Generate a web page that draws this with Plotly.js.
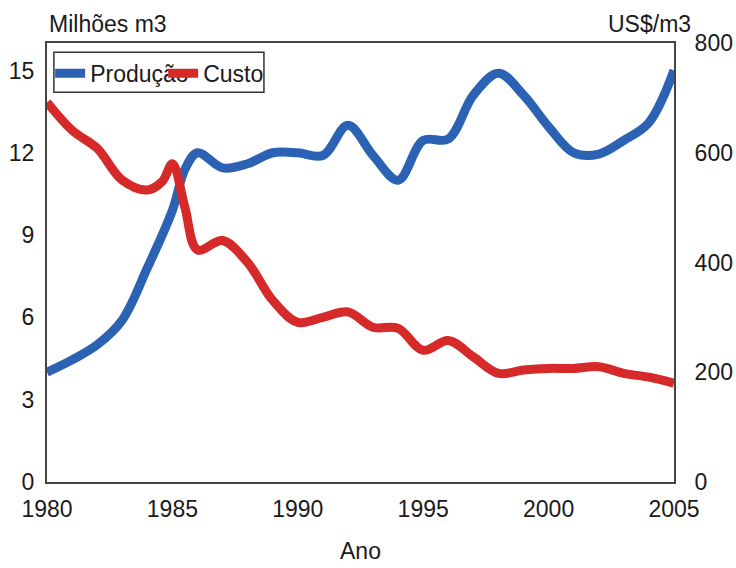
<!DOCTYPE html>
<html>
<head>
<meta charset="utf-8">
<script src="https://cdn.plot.ly/plotly-3.0.1.min.js"></script>
<style>html,body{margin:0;padding:0;background:#fff;}#chart{width:736px;height:568px;}</style>
</head>
<body>
<div id="chart"></div>
<script>
// Produção (milhões m3), left axis
const prodYears = [1980, 1981, 1982, 1983, 1984, 1985, 1985.5, 1986, 1987, 1988, 1989, 1990, 1991, 1992, 1993, 1994, 1995, 1996, 1997, 1998, 1999, 2000, 2001, 2002, 2003, 2004, 2005];
const prodValues = [4.0, 4.45, 5.0, 5.9, 7.8, 9.9, 11.4, 12.0, 11.45, 11.6, 12.0, 12.0, 11.9, 13.0, 11.9, 11.0, 12.45, 12.5, 14.1, 14.9, 14.1, 12.95, 12.0, 11.95, 12.45, 13.1, 15.0];
// Custo (US$/m3), right axis
const costYears = [1980, 1981, 1982, 1983, 1984, 1984.6, 1985, 1985.5, 1986, 1987, 1988, 1989, 1990, 1991, 1992, 1993, 1994, 1995, 1996, 1997, 1998, 1999, 2000, 2001, 2002, 2003, 2004, 2005];
const costValues = [692, 641, 608, 550, 532, 548, 580, 500, 423, 440, 400, 331, 291, 300, 310, 282, 280, 240, 258, 228, 198, 204, 207, 207, 210, 198, 191, 180];

const xTicks = [1980, 1985, 1990, 1995, 2000, 2005];
const yTicks = [0, 3, 6, 9, 12, 15];
const y2Ticks = [0, 200, 400, 600, 800];

const FONT = '"Liberation Sans", Arial, sans-serif';
const FS = 23;
const traces = [
  {x: prodYears, y: prodValues, name: 'Produção', type: 'scatter', mode: 'lines',
   line: {color: '#2b62b3', width: 9, shape: 'spline', smoothing: 1}, yaxis: 'y'},
  {x: costYears, y: costValues, name: 'Custo', type: 'scatter', mode: 'lines',
   line: {color: '#d62a2a', width: 9, shape: 'spline', smoothing: 1}, yaxis: 'y2'}
];
const layout = {
  width: 736, height: 568,
  margin: {l: 47, r: 62, t: 43, b: 86},
  paper_bgcolor: '#fff', plot_bgcolor: '#fff',
  font: {family: FONT, size: FS, color: '#1a1a1a'},
  showlegend: true,
  legend: {orientation: 'h', x: 0.005, y: 0.98, xanchor: 'left', yanchor: 'top',
    borderwidth: 0, bgcolor: 'rgba(255,255,255,0)',
    entrywidth: 68, entrywidthmode: 'pixels', font: {size: FS}, traceorder: 'normal',
    itemwidth: 30},
  xaxis: {range: [1980, 2005], tickvals: xTicks, ticktext: xTicks.map(String),
    showgrid: false, zeroline: false, showline: true, linecolor: '#444', linewidth: 2,
    mirror: true, ticks: '', ticklabelstandoff: 5,
    title: {text: 'Ano', standoff: 22, font: {size: FS}}},
  yaxis: {range: [0, 16], tickvals: yTicks, ticktext: yTicks.map(String),
    showgrid: false, zeroline: false, showline: true, linecolor: '#444', linewidth: 2,
    ticks: '', ticklabelstandoff: 6},
  yaxis2: {range: [0, 800], tickvals: y2Ticks, ticktext: y2Ticks.map(String),
    overlaying: 'y', side: 'right', showgrid: false, zeroline: false,
    showline: true, linecolor: '#444', linewidth: 2, ticks: '', ticklabelstandoff: 14},
  shapes: [
    {type: 'rect', xref: 'paper', yref: 'paper', x0: 0.011, x1: 0.346, y0: 0.888, y1: 0.979,
     line: {color: '#333', width: 1.5}, fillcolor: 'rgba(0,0,0,0)'}
  ],
  annotations: [
    {text: 'Milhões m3', xref: 'paper', yref: 'paper', x: 0, y: 1, xanchor: 'left', yanchor: 'bottom',
     yshift: 4, showarrow: false, font: {size: FS}},
    {text: 'US$/m3', xref: 'paper', yref: 'paper', x: 1.03, y: 1, xanchor: 'right', yanchor: 'bottom',
     yshift: 4, showarrow: false, font: {size: FS}}
  ]
};
Plotly.newPlot('chart', traces, layout, {displayModeBar: false, staticPlot: true});
</script>
</body>
</html>
